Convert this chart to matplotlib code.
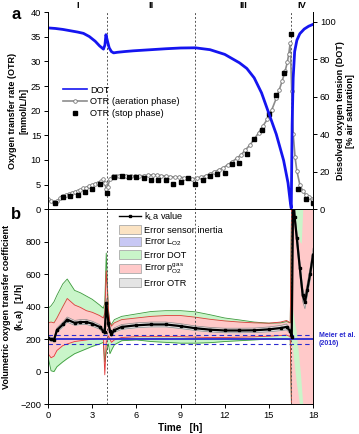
import numpy as np
import matplotlib
matplotlib.use("Agg")
import matplotlib.pyplot as plt
from matplotlib.lines import Line2D
from matplotlib.patches import Patch

plt.rcParams['font.family'] = ['Liberation Sans', 'DejaVu Sans']
plt.rcParams['font.size'] = 6.7

# ---- panel a data ----
t_dot = [0, 0.5, 1, 1.5, 2, 2.4, 2.8, 3.2, 3.5, 3.76, 3.86, 3.93, 4.02, 4.15, 4.3, 4.45,
         4.7, 5.2, 5.8, 7, 8, 9, 10, 11, 12, 13, 13.5, 14, 14.5, 15, 15.5, 16, 16.3,
         16.45, 16.52, 16.58, 16.65, 16.75, 16.9, 17.1, 17.4, 17.7, 18]
dot = [96.6, 96.3, 95.8, 95.1, 94.4, 93.7, 92, 89.5, 87, 85.3, 87.5, 93, 90, 86, 84, 83.3,
       83.6, 84, 84.4, 85, 85.5, 85.9, 86, 85, 82.5, 78, 75, 70, 62, 51, 40, 26, 14,
       4, 0.5, 45, 70, 84, 90, 93.5, 96, 97.5, 98.5]

t_aer = [0, 0.2, 0.4, 0.6, 0.8, 1.0, 1.2, 1.4, 1.6, 1.8, 2.0, 2.2, 2.4, 2.6, 2.8, 3.0,
         3.2, 3.4, 3.6, 3.75, 3.85, 3.95, 4.05, 4.2, 4.4, 4.6, 4.8, 5.0, 5.3, 5.6, 5.9,
         6.2, 6.5, 6.8, 7.1, 7.4, 7.7, 8.0, 8.3, 8.6, 8.9, 9.2, 9.5, 9.8, 10.1, 10.4,
         10.7, 11.0, 11.3, 11.6, 11.9, 12.2, 12.5, 12.8, 13.1, 13.4, 13.7, 14.0, 14.3,
         14.6, 14.9, 15.2, 15.5, 15.7, 15.9, 16.1, 16.25, 16.35, 16.45, 16.55, 16.65,
         16.78, 16.9, 17.1, 17.3, 17.5, 17.7, 17.9, 18.0]
otr_aer = [2.0, 1.6, 1.4, 1.7, 2.2, 2.6, 2.9, 3.1, 3.3, 3.5, 3.7, 3.9, 4.2, 4.4, 4.7, 4.9,
           5.2, 5.4, 5.7, 6.1, 5.4, 4.0, 4.6, 6.2, 6.7, 6.8, 6.8, 6.8, 6.8, 6.7, 6.7,
           6.8, 6.8, 6.9, 7.0, 6.9, 6.8, 6.7, 6.6, 6.5, 6.5, 6.4, 6.3, 6.2, 6.3, 6.5,
           6.8, 7.2, 7.6, 8.0, 8.4, 9.0, 9.6, 10.3, 11.0, 12.0, 13.0, 14.2, 15.5,
           16.9, 18.3, 20.2, 22.5, 24.2, 26.0, 28.0, 29.8, 31.5, 33.8, 24.0, 15.3,
           10.5, 7.8, 5.0, 3.7, 2.9, 2.4, 2.0, 1.8]

t_stop = [0.5, 1, 1.5, 2, 2.5, 3, 3.5, 4, 4.5, 5, 5.5, 6, 6.5, 7, 7.5, 8, 8.5, 9, 9.5, 10,
          10.5, 11, 11.5, 12, 12.5, 13, 13.5, 14, 14.5, 15, 15.5, 16, 16.5, 17, 17.5, 18]
otr_stop = [1.3, 2.5, 2.7, 2.9, 3.5, 4.0, 5.2, 3.2, 6.6, 6.7, 6.5, 6.6, 6.4, 5.9, 5.9, 5.9,
            5.1, 5.6, 6.3, 5.2, 5.9, 6.7, 7.1, 7.3, 9.1, 9.4, 11.3, 14.2, 16.1, 19.3, 23.1,
            27.7, 35.6, 4.0, 2.0, 1.3]

phase_bounds = [0, 4, 10, 16.5, 18]
phase_names = ['I', 'II', 'III', 'IV']

# ---- panel b data ----
t_b = [0, 0.2, 0.4, 0.6, 1.0, 1.3, 1.8, 2.2, 2.6, 3.0, 3.5, 3.75, 3.85, 3.95, 4.1, 4.2,
       4.3, 4.5, 5, 6, 7, 8, 9, 10, 11, 12, 13, 14, 15, 15.8, 16.2, 16.45, 16.55, 16.65,
       16.75, 16.9, 17.1, 17.3, 17.45, 17.6, 17.8, 18]
kla = [205, 200, 195, 255, 290, 320, 300, 305, 305, 295, 275, 250, 245, 420, 300, 250,
       230, 255, 275, 285, 290, 290, 280, 267, 258, 253, 253, 254, 260, 268, 275, 250, 215,
       1100, 950, 820, 640, 470, 427, 500, 600, 720]
otr_err = [12, 12, 12, 14, 15, 16, 15, 15, 15, 15, 14, 14, 20, 30, 20, 15,
           14, 14, 15, 15, 15, 15, 15, 14, 14, 14, 14, 14, 15, 16, 18, 15, 10,
           40, 40, 40, 40, 40, 40, 40, 40, 40]
red_lo = [110, 85, 95, 130, 160, 170, 185, 190, 195, 200, 205, 200, -20, 180, 220, 200,
          180, 195, 210, 215, 215, 215, 215, 212, 210, 210, 212, 214, 218, 222, 225, 215,
          -300, -300, -300, -300, -300, -300, -300, -300, -300, -300]
red_hi = [300, 305, 300, 330, 400, 450, 410, 395, 375, 365, 345, 330, 360, 620, 380, 300,
          280, 300, 320, 330, 340, 345, 345, 335, 322, 312, 305, 300, 298, 305, 315, 300,
          1100, 1100, 1100, 1100, 1100, 1100, 1100, 1100, 1100, 1100]
green_lo = [90, 5, 0, 30, 60, 80, 110, 125, 140, 155, 170, 180, 60, 120, 170, 110,
            130, 165, 190, 195, 185, 180, 175, 175, 178, 185, 190, 195, 200, 200, 200, 195,
            -300, -300, -300, -300, -300, -300, -300, -300, -300, -300]
green_hi = [389, 405, 430, 470, 540, 570, 500, 485, 465, 445, 410, 390, 420, 730, 360, 300,
            290, 320, 340, 355, 370, 375, 375, 368, 350, 330, 318, 305, 298, 300, 308, 300,
            1100, 1100, 1100, 1100, 1100, 1100, 1100, 1100, 1100, 1100]

# green patches visible on top of the pink after the DOT crash
t_gu = [16.57, 16.7, 16.9, 17.1, 17.2, 17.3]
gu_lo = [1000, 930, 870, 800, 790, 1000]
t_gl = [16.5, 16.6, 16.7, 16.85, 17.0, 17.15, 17.3]
gl_lo = [200, 150, 60, -60, -150, -250, -250]
gl_hi = [250, 390, 330, 250, 120, -20, -200]

meier_kla = 200
meier_lo = 172
meier_hi = 228

c_green, c_green_e = '#c9f5c9', '#3c9a3c'
c_red, c_red_e = '#ffc9c9', '#e03a3a'
c_gray, c_gray_e = '#e4e4e4', '#8a8a8a'
c_orange = '#fbe3c3'
c_lav = '#c8c8f4'
c_blue = '#1515f0'
c_meier = '#2a2ad0'

fig = plt.figure(figsize=(3.59, 4.34), dpi=100)
ax_a = fig.add_axes([0.134, 0.518, 0.738, 0.454])
ax_b = fig.add_axes([0.134, 0.069, 0.738, 0.449])
ax_a2 = ax_a.twinx()

# ---- panel a ----
for tb in phase_bounds[1:-1]:
    ax_a.axvline(tb, color='#555555', ls=(0, (2, 2)), lw=0.7)
ax_a.plot(t_aer, otr_aer, color='#8c8c8c', lw=1.2, marker='o', ms=2.6, mfc='white',
          mec='#777777', mew=0.6)
ax_a.plot(t_stop, otr_stop, ls='none', marker='s', ms=2.8, color='black')
ax_a2.plot(t_dot, dot, color=c_blue, lw=2.0)

ax_a.set_xlim(0, 18)
ax_a.set_ylim(0, 40)
ax_a.set_yticks(range(0, 41, 5))
ax_a2.set_ylim(0, 105)
ax_a2.set_yticks(range(0, 101, 20))
ax_a.set_xticks(range(0, 19, 3))
ax_a.tick_params(axis='x', labelbottom=False, direction='out', length=3, width=0.7)
ax_a.tick_params(axis='y', direction='out', length=3, width=0.7, pad=2)
ax_a2.tick_params(axis='y', direction='out', length=3, width=0.7, pad=2)
for ax in (ax_a, ax_a2):
    ax.spines['top'].set_visible(False)
    for s in ax.spines.values():
        s.set_linewidth(0.7)

# label anchors: right edge for the left labels, left edge for the right label
ax_a.set_ylabel('Oxygen transfer rate (OTR)\n[mmol/L/h]', fontweight='bold',
                fontsize=6.5, linespacing=1.25)
ax_a.yaxis.set_label_coords(-0.075, 0.5)
ax_a2.set_ylabel('Dissolved oxygen tension (DOT)\n[% air saturation]', fontweight='bold',
                 fontsize=6.5, linespacing=1.25)
ax_a2.yaxis.set_label_coords(1.085, 0.5)

for i, name in enumerate(phase_names):
    mid = (phase_bounds[i] + phase_bounds[i + 1]) / 2
    ax_a.annotate(name, xy=(mid, 1.035), xycoords=('data', 'axes fraction'),
                  ha='center', va='center', fontweight='bold', fontsize=6.7)

h_a = [Line2D([], [], color=c_blue, lw=1.2),
       Line2D([], [], color='#8c8c8c', lw=1.2, marker='o', ms=2.6, mfc='white',
              mec='#777777', mew=0.6),
       Line2D([], [], ls='none', marker='s', ms=2.8, color='black')]
ax_a2.legend(h_a, ['DOT', 'OTR (aeration phase)', 'OTR (stop phase)'],
             loc='upper left', bbox_to_anchor=(0.03, 0.66), frameon=False, fontsize=6.7,
             handlelength=2.6, handletextpad=0.4, labelspacing=0.3, borderpad=0.2)

# ---- panel b ----
ax_b.fill_between(t_b, green_lo, green_hi, color=c_green, lw=0)
ax_b.plot(t_b, green_lo, color=c_green_e, lw=0.6)
ax_b.plot(t_b, green_hi, color=c_green_e, lw=0.6)
ax_b.fill_between(t_b, red_lo, red_hi, color=c_red, lw=0)
ax_b.plot(t_b, red_lo, color=c_red_e, lw=0.6)
ax_b.plot(t_b, red_hi, color=c_red_e, lw=0.6)
ax_b.fill_between(t_gu, gu_lo, 1100, color=c_green, lw=0)
ax_b.fill_between(t_gl, gl_lo, gl_hi, color=c_green, lw=0)
kla_arr = np.array(kla)
err_arr = np.array(otr_err)
ax_b.fill_between(t_b, kla_arr - err_arr, kla_arr + err_arr, color=c_gray, lw=0)
ax_b.plot(t_b, kla_arr - err_arr, color=c_gray_e, lw=0.5)
ax_b.plot(t_b, kla_arr + err_arr, color=c_gray_e, lw=0.5)

ax_b.axhline(meier_kla, color=c_meier, lw=1.3)
ax_b.axhline(meier_lo, color=c_meier, lw=0.8, ls=(0, (4, 3)))
ax_b.axhline(meier_hi, color=c_meier, lw=0.8, ls=(0, (4, 3)))
for tb in phase_bounds[1:-1]:
    ax_b.axvline(tb, color='#555555', ls=(0, (2, 2)), lw=0.7)
ax_b.plot(t_b, kla, color='black', lw=1.6, marker='s', ms=1.8)

ax_b.set_xlim(0, 18)
ax_b.set_ylim(-200, 1000)
ax_b.set_yticks(range(-200, 801, 200))
ax_b.set_xticks(range(0, 19, 3))
ax_b.tick_params(direction='out', length=3, width=0.7, pad=2)
ax_b.spines['top'].set_visible(False)
for s in ax_b.spines.values():
    s.set_linewidth(0.7)
ax_b.set_xlabel('Time   [h]', fontweight='bold', fontsize=7.2, labelpad=2)
ax_b.set_ylabel('Volumetric oxygen transfer coefficient\n(k$_\\mathregular{L}$a)   [1/h]',
                fontweight='bold', fontsize=6.5, linespacing=1.25)
ax_b.yaxis.set_label_coords(-0.083, 0.5)

ax_b.text(1.022, (meier_kla - (-200)) / 1200, 'Meier et al.\n(2016)', transform=ax_b.transAxes,
          color=c_meier, fontweight='bold', fontsize=5.0, va='center', ha='left',
          linespacing=1.2)

h_b = [Line2D([], [], color='black', lw=1.0, marker='s', ms=1.8),
       Patch(fc=c_orange, ec='#aaaaaa', lw=0.6),
       Patch(fc=c_lav, ec='#aaaaaa', lw=0.6),
       Patch(fc=c_green, ec='#aaaaaa', lw=0.6),
       Patch(fc=c_red, ec='#aaaaaa', lw=0.6),
       Patch(fc=c_gray, ec='#aaaaaa', lw=0.6)]
l_b = ['k$_\\mathregular{L}$a value', 'Error sensor inertia', 'Error L$_\\mathregular{O2}$',
       'Error DOT', 'Error p$_\\mathregular{O2}^\\mathregular{gas}$', 'Error OTR']
ax_b.legend(h_b, l_b, loc='upper left', bbox_to_anchor=(0.245, 1.025), frameon=False,
            fontsize=6.6, handlelength=2.3, handleheight=1.1, handletextpad=0.4,
            labelspacing=0.22, borderpad=0.2)

fig.text(0.045, 0.967, 'a', fontweight='bold', fontsize=12, ha='center', va='center')
fig.text(0.045, 0.505, 'b', fontweight='bold', fontsize=12, ha='center', va='center')

fig.savefig('out.png', dpi=100)
